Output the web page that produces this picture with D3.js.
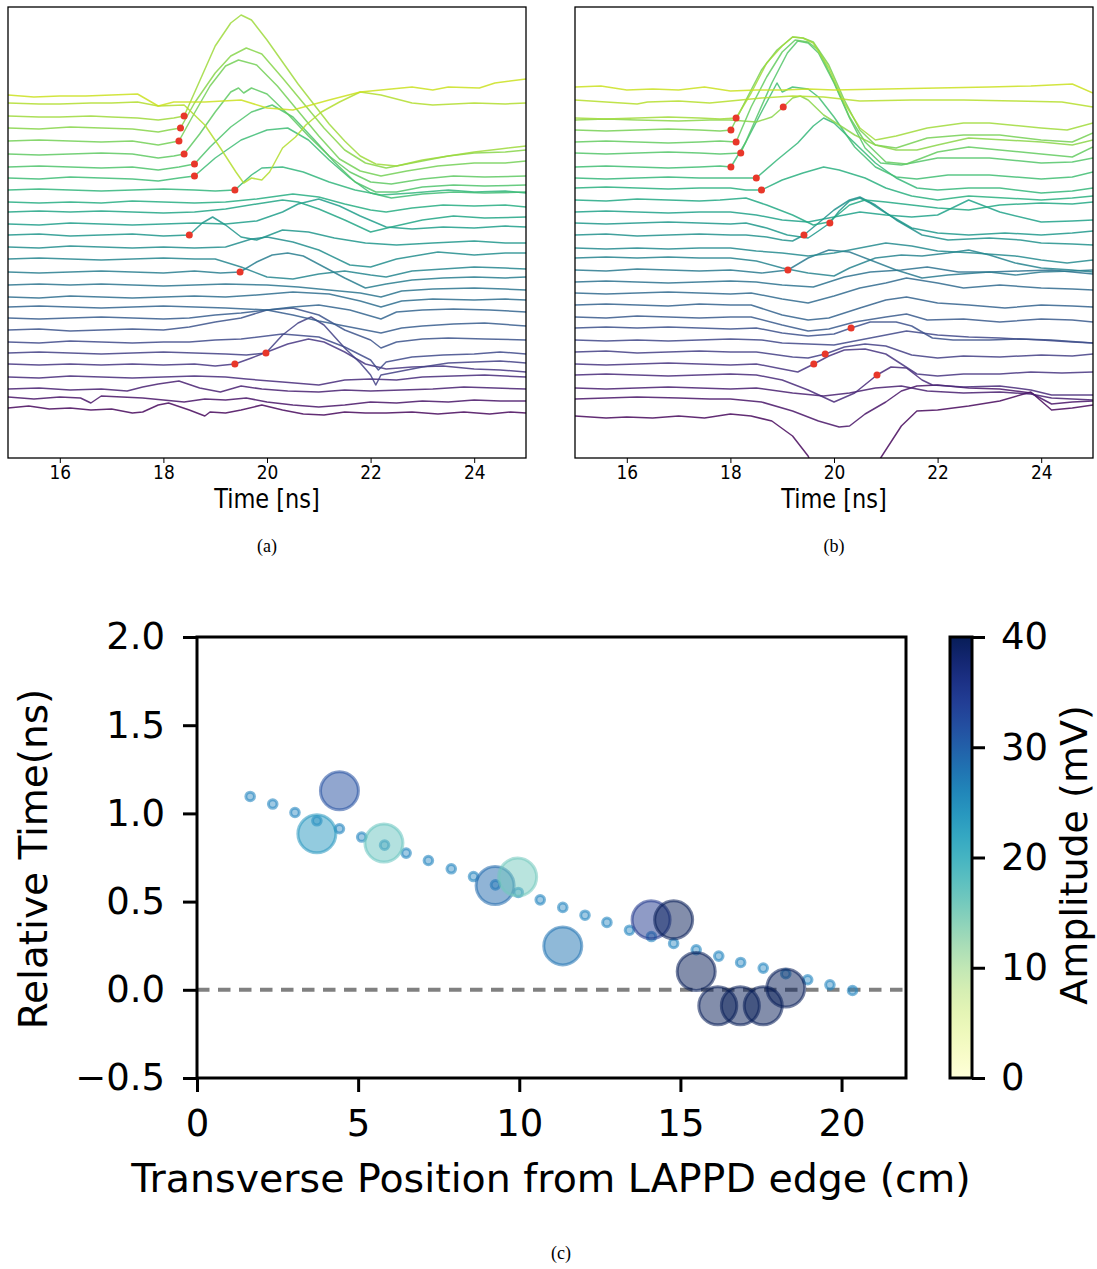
<!DOCTYPE html>
<html>
<head>
<meta charset="utf-8">
<script src="https://cdn.jsdelivr.net/npm/d3@7"></script>
<style>
  body { margin: 0; background: #fff; }
  text { font-family: "DejaVu Sans", sans-serif; fill: #000; }
  .cap { font-family: "Liberation Serif", "DejaVu Serif", serif; }
</style>
</head>
<body>
<svg id="fig" width="1097" height="1269"></svg>
<script>
// ---- panels (a) and (b): stacked strip waveforms ----
var timeTicks = [16, 18, 20, 22, 24];

// baseline offset of each strip (a.u.), bottom strip first
var offsetsA = [52, 63, 71, 83, 96, 107, 118, 130, 142, 153, 163, 175, 188, 201, 213, 225, 236, 248, 258, 270, 282, 293, 306, 319, 332, 344, 357, 365];
// waveform knots [time ns, amplitude relative to baseline]
var wavesA = [
  [[15,0],[15.4,2],[15.8,-1],[16.2,0],[16.6,-2],[17,-1],[17.4,-5],[17.6,-4],[17.9,3],[18.1,5],[18.5,-2],[18.8,-8],[18.9,-4],[19.2,-5],[19.5,-2],[19.9,3],[20.3,-2],[20.7,-6],[21.1,-7],[21.5,-4],[21.9,-5],[22.3,-5],[22.8,-4],[23.3,-6],[23.8,-4],[24.3,-6],[24.7,-4],[25,-5]],
  [[15,0],[15.5,-2],[16,0],[16.4,-1],[16.6,-6],[16.8,1],[17.2,0],[17.6,-1],[18,-3],[18.4,-5],[18.8,-2],[19.2,-3],[19.6,-1],[20,-5],[20.5,-8],[21,-10],[21.5,-8],[22,-5],[22.5,-6],[23,-4],[23.5,-5],[24,-3],[24.5,-4],[25,-4]],
  [[15,0],[15.6,1],[16.2,-1],[16.8,0],[17.3,-2],[17.6,2],[17.9,5],[18.3,8],[18.7,1],[19.1,-3],[19.5,3],[19.9,0],[20.4,-2],[21,-3],[21.5,-1],[22,-2],[22.6,-1],[23.2,0],[23.8,2],[24.4,1],[25,0]],
  [[15,0],[15.6,-1],[16.2,1],[16.8,0],[17.4,-1],[18,0],[18.6,1],[19.2,0],[19.6,-2],[20.3,-5],[21,-8],[21.5,-3],[22,-2],[22.5,-3],[23,0],[23.6,1],[24.2,2],[25,0]],
  [[15,0],[15.6,-1],[16.2,0],[16.8,-1],[17.4,0],[18,-1],[18.6,0],[19,-2],[19.38,0],[19.7,6],[20,12],[20.4,20],[20.8,25],[21.1,22],[21.5,12],[21.9,0],[22.3,-5],[22.8,-3],[23.4,-2],[24,-5],[24.5,-6],[25,-8]],
  [[15,0],[15.6,1],[16.2,0],[16.8,-1],[17.4,0],[18,1],[18.6,0],[19.2,-1],[19.6,-2],[19.98,0],[20.3,18],[20.6,30],[20.85,36],[21.1,28],[21.5,5],[21.8,-10],[22,-22],[22.1,-32],[22.2,-22],[22.6,-18],[23,-14],[23.5,-10],[24,-9],[24.5,-8],[25,-10]],
  [[15,0],[15.6,-1],[16.2,1],[16.8,0],[17.4,-1],[18,0],[18.5,0],[19,2],[19.5,3],[20.3,8],[21,5],[21.5,-5],[22,-18],[22.15,-28],[22.3,-20],[22.8,-15],[23.4,-13],[24,-12],[24.5,-10],[25,-12]],
  [[15,0],[15.6,1],[16.2,-1],[16.8,0],[17.4,1],[18,0],[18.5,3],[19,8],[19.5,12],[20,20],[20.5,22],[21,15],[21.5,0],[22,-10],[22.2,-18],[22.5,-12],[23,-9],[23.5,-8],[24.2,-9],[25,-10]],
  [[15,0],[15.6,-1],[16.2,0],[16.8,1],[17.4,0],[18,-1],[18.5,0],[19,3],[19.5,5],[20,8],[20.5,3],[21,-3],[21.5,-8],[22.2,-15],[22.6,-10],[23,-8],[23.6,-6],[24.2,-5],[25,-8]],
  [[15,0],[15.6,1],[16.2,0],[16.8,-1],[17.4,0],[18,1],[18.6,0],[19.2,-1],[20,-3],[20.5,0],[21,2],[21.6,-3],[22.2,-12],[22.5,-5],[23,-3],[23.6,-2],[24.3,-3],[25,-5]],
  [[15,0],[15.6,-1],[16.2,1],[16.8,0],[17.4,-1],[18,0],[18.6,1],[19.2,0],[19.8,2],[20.5,5],[21.2,3],[21.8,-4],[22.2,-10],[22.6,-4],[23.2,-2],[24,-3],[24.6,-2],[25,-3]],
  [[15,0],[15.6,1],[16.2,0],[16.8,1],[17.4,0],[18,-1],[18.6,0],[19.2,1],[20,0],[20.6,-2],[21.2,-5],[21.8,-8],[22.2,-12],[22.6,-6],[23.2,-4],[24,-3],[24.6,-4],[25,-5]],
  [[15,0],[15.6,-1],[16.2,0],[16.8,1],[17.4,0],[18,-1],[18.6,1],[19.1,-1],[19.48,0],[19.8,10],[20.1,17],[20.4,19],[20.7,16],[21.1,5],[21.5,-6],[21.9,-16],[22.3,-12],[22.8,-8],[23.4,-6],[24,-5],[24.6,-6],[25,-5]],
  [[15,0],[15.6,1],[16.2,0],[16.8,-1],[17.4,0],[18,1],[18.6,0],[19,0],[19.5,-8],[20,-18],[20.5,-20],[21,-15],[21.5,-12],[22,-16],[22.3,-18],[22.8,-12],[23.4,-10],[24,-8],[24.6,-9],[25,-10]],
  [[15,0],[15.6,-1],[16.2,1],[16.8,0],[17.4,-1],[18,0],[18.6,-1],[19.2,0],[19.7,8],[20,10],[20.5,5],[21,-3],[21.6,-18],[22,-20],[22.5,-12],[23.3,-5],[24,-8],[24.6,-6],[25,-6]],
  [[15,0],[15.6,1],[16.2,-1],[16.8,0],[17.4,1],[18,-1],[18.5,0],[18.75,12],[18.95,18],[19.2,10],[19.5,-2],[19.8,-5],[20.3,5],[20.8,3],[21.3,-3],[21.9,-8],[22.5,-10],[23.2,-8],[24,-6],[24.6,-8],[25,-8]],
  [[15,0],[15.6,-1],[16.2,1],[16.8,0],[17.4,-1],[18,0],[18.6,1],[19.2,0],[19.8,3],[20.3,12],[20.6,20],[21,25],[21.4,18],[21.8,8],[22.3,-3],[22.8,-5],[23.4,-3],[24,-4],[24.6,-2],[25,-3]],
  [[15,0],[15.6,1],[16.2,0],[16.8,1],[17.4,0],[18,-1],[18.6,0],[19.2,3],[19.8,8],[20.3,12],[20.6,10],[21,3],[21.5,-8],[22,-20],[22.4,-15],[23,-8],[23.6,-4],[24.2,-6],[25,-5]],
  [[15,0],[15.6,-1],[16.2,0],[16.8,-1],[17.4,1],[18,0],[18.6,-1],[19.2,0],[19.8,3],[20.5,8],[21,5],[21.5,-2],[22,-8],[22.3,-10],[22.8,-6],[23.4,-3],[24,-4],[24.6,-3],[25,-5]],
  [[15,0],[15.6,1],[16.2,0],[16.8,-1],[17.4,0],[18,1],[18.6,0],[19,-1],[19.38,0],[19.7,15],[19.9,22],[20.3,23],[20.7,18],[21.2,8],[21.7,0],[22.2,-5],[22.8,-3],[23.5,0],[24,-2],[24.6,-1],[25,-3]],
  [[15,0],[15.6,-1],[16.2,1],[16.8,0],[17.4,-1],[17.9,-3],[18.3,0],[18.6,2],[19,20],[19.5,38],[20,48],[20.4,50],[20.8,38],[21.2,18],[21.6,0],[22,-15],[22.4,-20],[23,-16],[23.6,-14],[24.2,-15],[25,-14]],
  [[15,0],[15.6,1],[16.2,0],[16.8,-1],[17.4,0],[17.9,-3],[18.3,0],[18.6,3],[18.9,20],[19.3,40],[19.7,55],[20.1,62],[20.5,50],[20.9,28],[21.3,5],[21.7,-15],[22.1,-25],[22.5,-25],[23,-20],[23.6,-18],[24.2,-19],[25,-18]],
  [[15,0],[15.6,-1],[16.2,0],[16.8,1],[17.4,0],[17.9,-4],[18.2,-2],[18.4,0],[18.7,20],[19,42],[19.3,62],[19.45,66],[19.55,61],[19.7,66],[20,60],[20.4,40],[20.8,18],[21.2,-2],[21.6,-18],[22,-28],[22.4,-30],[23,-25],[23.6,-22],[24.2,-23],[25,-22]],
  [[15,0],[15.6,1],[16.2,0],[16.8,-1],[17.4,0],[17.9,-4],[18.1,-2],[18.3,0],[18.6,28],[18.9,55],[19.2,75],[19.45,81],[19.8,76],[20.2,55],[20.6,30],[21,5],[21.4,-18],[21.8,-30],[22.2,-35],[22.7,-30],[23.3,-25],[24,-22],[24.6,-22],[25,-20]],
  [[15,0],[15.6,-1],[16.2,1],[16.8,0],[17.4,-1],[17.9,-4],[18.1,-2],[18.33,0],[18.6,25],[19,55],[19.3,72],[19.6,80],[19.9,74],[20.3,50],[20.7,25],[21.1,0],[21.5,-22],[21.9,-35],[22.3,-40],[22.8,-35],[23.5,-28],[24,-25],[24.6,-24],[25,-22]],
  [[15,0],[15.6,-1],[16,-1],[16.6,0],[17,-1],[17.5,-2],[17.9,-4],[18.2,-2],[18.4,0],[18.7,35],[19,70],[19.3,93],[19.5,101],[19.7,96],[20,76],[20.3,54],[20.6,32],[20.9,12],[21.2,-8],[21.5,-25],[21.8,-40],[22.1,-48],[22.5,-50],[23,-44],[23.5,-40],[24,-36],[24.5,-33],[25,-30]],
  [[15,0],[15.6,-1],[16,-1],[16.6,0],[17,0],[17.5,1],[17.9,-3],[18.4,-2],[18.8,-22],[19.1,-45],[19.4,-69],[19.55,-80],[19.7,-75],[19.9,-77],[20.05,-69],[20.3,-45],[20.55,-34],[20.75,-22],[21.05,-9],[21.4,1],[21.8,11],[22.2,8],[22.8,0],[23.2,-2],[24,0],[24.6,-1],[25,0]],
  [[15,0],[15.5,-2],[16,-1],[16.5,-1],[17,0],[17.5,1],[17.9,-11],[18.2,-7],[18.8,-7],[19.5,-5],[20,-13],[20.5,-15],[21.2,-5],[21.8,3],[22.2,5],[22.8,8],[23.2,5],[23.5,8],[24.1,7],[24.4,12],[25,16]]
];
// arrival markers [time ns, strip index]
var dotsA = [[18.4,25],[18.33,24],[18.3,23],[18.4,22],[18.6,21],[18.6,20],[19.38,19],[18.5,15],[19.48,12],[19.98,5],[19.38,4]];

var offsetsB = [44, 61, 72, 85, 96, 108, 120, 132, 143, 155, 167, 178, 190, 202, 212, 225, 237, 248, 260, 272, 282, 293, 307, 318, 330, 340, 342, 360, 373];
var wavesB = [
  [[15,0],[15.6,-2],[16,-1],[16.5,-2],[17,0],[17.5,-2],[18,2],[18.4,0],[18.8,-5],[19.2,-20],[19.5,-40],[19.8,-75],[20.2,-95],[20.6,-75],[20.9,-42],[21.3,-10],[21.6,5],[22,6],[22.6,10],[23.2,15],[23.8,24],[24.2,6],[24.6,8],[25,11]],
  [[15,0],[15.6,1],[16.2,2],[17,1],[17.6,0],[18,0],[18.6,-3],[19.2,-12],[19.7,-22],[20.1,-28],[20.3,-27],[20.6,-15],[21,-3],[21.3,8],[21.6,13],[22,14],[22.6,11],[23.2,10],[23.5,8],[23.8,6],[24.2,-5],[24.6,-3],[25,-2]],
  [[15,0],[15.6,-1],[16.2,0],[16.8,1],[17.4,0],[18,-1],[18.5,0],[19.2,-5],[19.8,-8],[20.3,-5],[20.8,0],[21.3,2],[21.8,-3],[22.5,-5],[23.2,-4],[23.8,-6],[24.2,-10],[25,-12]],
  [[15,0],[15.6,1],[16.2,0],[16.8,-1],[17.4,0],[18,1],[18.5,0],[19,-5],[19.5,-15],[20,-27],[20.4,-18],[20.83,0],[21.1,8],[21.4,7],[21.7,-5],[21.9,-10],[22.5,-12],[23.2,-11],[23.8,-15],[24.2,-20],[25,-20]],
  [[15,0],[15.6,-1],[16.2,0],[16.8,1],[17.4,0],[18,-1],[18.5,0],[19,-5],[19.3,-8],[19.61,0],[19.9,8],[20.2,14],[20.6,15],[21,10],[21.3,0],[21.6,-10],[22,-12],[22.5,-10],[23.2,-10],[23.8,-8],[24.4,-9],[25,-8]],
  [[15,0],[15.6,1],[16.2,-1],[16.8,0],[17.4,1],[18,0],[18.5,0],[19.2,-5],[19.5,-6],[19.83,-2],[20.2,5],[20.6,8],[21,6],[21.5,-3],[22,-6],[22.5,-4],[23.2,-5],[24,-3],[24.6,-4],[25,-2]],
  [[15,0],[15.6,-1],[16.2,0],[16.8,-1],[17.4,0],[18,1],[18.6,0],[19,-3],[20,-5],[20.5,0],[21,5],[21.4,9],[22,5],[22.6,3],[23.2,2],[24,0],[24.6,-2],[25,-3]],
  [[15,0],[15.6,1],[16.2,0],[16.8,1],[17.4,0],[18,-1],[18.5,0],[19,-5],[19.5,-8],[20,-6],[20.33,0],[20.7,6],[21.2,6],[21.5,2],[21.9,-10],[22.3,-12],[23,-12],[23.6,-11],[24.2,-12],[25,-15]],
  [[15,0],[15.6,-1],[16.2,1],[16.8,0],[17.4,-1],[18,0],[18.4,0],[19,-8],[19.5,-14],[19.9,-12],[20.4,-5],[21,0],[21.4,3],[21.8,-3],[22.5,-2],[23.2,-5],[24,-2],[24.6,-3],[25,-5]],
  [[15,0],[15.6,1],[16.2,0],[16.8,-1],[17.4,1],[18,0],[18.4,0],[19,-10],[19.5,-15],[19.9,-13],[20.5,-3],[21,5],[21.4,8],[22,2],[22.6,0],[23.3,-3],[24,0],[24.6,-1],[25,-2]],
  [[15,0],[15.6,-1],[16.2,0],[16.8,1],[17.4,0],[18,-1],[18.4,0],[19,-6],[19.5,-10],[20,-3],[20.5,5],[21,10],[21.4,15],[22,10],[22.5,5],[23.2,8],[24,5],[24.6,4],[25,3]],
  [[15,0],[15.6,1],[16.2,0],[16.8,-1],[17.4,0],[18,1],[18.5,0],[19,-3],[19.6,-5],[20.2,5],[20.7,10],[21.3,12],[21.8,15],[22.4,10],[23,10],[23.6,11],[24.2,12],[25,8]],
  [[15,0],[15.6,-1],[16.2,1],[16.8,0],[17.4,-1],[18,0],[18.6,-3],[19.11,0],[19.5,12],[19.9,20],[20.3,18],[20.7,10],[21.2,0],[21.7,-8],[22.2,-5],[23,-2],[23.5,-5],[24,-2],[24.6,-1],[25,0]],
  [[15,0],[15.6,1],[16.2,0],[16.8,1],[17.4,0],[18,0],[18.5,-3],[19,-10],[19.5,-15],[20,-18],[20.3,-10],[20.8,0],[21.3,3],[21.7,2],[22.2,5],[22.6,8],[23,3],[23.5,-5],[24,-10],[24.6,-12],[25,-14]],
  [[15,0],[15.6,-1],[16.2,0],[16.8,-1],[17.4,0],[18,0],[18.5,-3],[19,-5],[19.5,-8],[20,-5],[20.5,0],[21,5],[21.5,2],[22,-3],[22.7,-5],[23.5,-8],[24,-12],[24.5,-15],[25,-12]],
  [[15,0],[15.6,1],[16.2,-1],[16.8,0],[17.4,1],[18,0],[18.3,0],[18.7,-2],[19,-5],[19.2,-6],[19.42,0],[19.7,12],[20,25],[20.3,35],[20.5,38],[20.8,30],[21.2,15],[21.7,0],[22.2,-5],[23,-3],[23.6,-5],[24,-8],[24.6,-9],[25,-10]],
  [[15,0],[15.6,-1],[16.2,0],[16.8,1],[17.4,0],[18,-1],[18.3,0],[18.7,-5],[19.1,-12],[19.5,-15],[19.7,-8],[19.92,0],[20.1,12],[20.3,22],[20.5,25],[20.7,20],[21,10],[21.5,-5],[22,-10],[22.6,-12],[23.3,-10],[24,-12],[24.6,-10],[25,-8]],
  [[15,0],[15.6,1],[16.2,0],[16.8,-1],[17.4,0],[18,0],[18.5,-3],[19,-8],[19.5,-10],[20,-5],[20.5,0],[21,-3],[21.5,-5],[22,-3],[22.6,12],[23.2,0],[24,-10],[24.6,-9],[25,-8]],
  [[15,0],[15.6,-1],[16.2,1],[16.8,0],[17.4,-1],[17.8,0],[18.3,2],[18.7,-5],[19.2,-15],[19.6,-25],[19.9,-22],[20.3,-5],[20.6,0],[21,-2],[21.5,-5],[22,-8],[22.6,-10],[23.2,-5],[24,-3],[24.6,-4],[25,-2]],
  [[15,0],[15.6,1],[16.2,0],[16.8,-1],[17.4,0],[18,0],[18.3,-2],[18.6,-2],[19,8],[19.4,15],[19.8,21],[20.1,18],[20.6,10],[21,0],[21.5,-8],[22,-12],[22.6,-8],[23.3,-10],[24,-12],[24.6,-10],[25,-8]],
  [[15,0],[15.6,-1],[16.2,0],[16.8,1],[17.4,0],[18,0],[18.5,0],[18.9,18],[19.3,35],[19.6,52],[19.8,60],[20,55],[20.4,35],[20.8,15],[21.2,0],[21.6,-10],[22,-12],[22.6,-10],[23.2,-10],[24,-15],[24.6,-13],[25,-10]],
  [[15,0],[15.6,1],[16.2,0],[16.8,-1],[17.4,0],[17.8,1],[18.01,0],[18.3,25],[18.6,55],[18.9,84],[19,75],[19.2,80],[19.5,78],[19.7,70],[20,50],[20.4,20],[20.8,0],[21.2,-10],[21.6,-12],[22.2,-8],[23,-8],[24,-12],[24.6,-10],[25,-5]],
  [[15,0],[15.6,-1],[16.2,0],[16.8,1],[17.4,0],[17.8,-1],[18.2,0],[18.5,35],[18.8,70],[19.1,100],[19.3,112],[19.5,110],[19.7,100],[20,70],[20.3,35],[20.6,5],[20.9,-10],[21.3,-12],[22,-5],[23,-5],[24,-10],[24.6,-9],[25,-5]],
  [[15,0],[15.6,1],[16.2,0],[16.8,-1],[17.4,0],[17.8,1],[18.11,0],[18.4,35],[18.7,65],[19,90],[19.25,102],[19.5,100],[19.7,92],[20,60],[20.3,25],[20.6,0],[21,-20],[21.4,-22],[22,-10],[22.6,-5],[23.2,-8],[24,-12],[24.6,-15],[25,-5]],
  [[15,0],[15.6,-1],[16.2,0],[16.8,1],[17.4,0],[17.8,-1],[18.01,0],[18.3,30],[18.6,60],[18.9,80],[19.2,93],[19.4,92],[19.6,88],[19.9,65],[20.2,30],[20.5,0],[20.8,-15],[21.2,-18],[21.8,-8],[22.5,-5],[23.2,-5],[24,-10],[24.6,-12],[25,-3]],
  [[15,0],[15.6,1],[16.2,0],[17,-1],[17.6,0],[18,0],[18.5,-2],[18.8,3],[19,12],[19.2,22],[19.35,24],[19.5,20],[19.8,5],[20.1,-5],[20.4,-15],[20.8,-25],[21.2,-30],[21.6,-30],[22,-25],[22.6,-18],[23.3,-20],[24,-22],[24.6,-25],[25,-20]],
  [[15,0],[15.6,-1],[16.2,0],[16.8,1],[17.4,0],[17.8,-1],[18.11,0],[18.4,25],[18.7,55],[19,72],[19.2,81],[19.4,80],[19.6,75],[19.9,50],[20.2,15],[20.5,-10],[20.8,-22],[21.2,-18],[21.8,-10],[22.5,-5],[23,-5],[24,-10],[24.5,-12],[25,-5]],
  [[15,0],[15.6,-2],[16.2,-4],[16.4,-2],[17,-1],[17.6,-3],[18,-1],[18.6,2],[19.2,4],[19.8,3],[20.5,-1],[21.5,0],[22.5,0],[23.5,-1],[24.4,-2],[25,-7]],
  [[15,0],[15.5,1],[16,-3],[16.5,-2],[17,-3],[17.5,0],[18,-4],[18.5,-3],[19,-3],[19.5,-2],[20,-3],[21,-2],[22,-1],[23,0],[23.8,1],[24.6,3],[25,-6]]
];
var dotsB = [[18.11,26],[18.01,24],[18.11,23],[18.2,22],[18.01,21],[18.5,20],[18.6,19],[19.02,25],[19.92,16],[19.42,15],[19.11,12],[20.33,7],[19.83,5],[19.61,4],[20.83,3]];

// ---- panel (c): relative arrival time vs transverse position ----
var stripX = [1.65,2.35,3.04,3.72,4.42,5.11,5.82,6.49,7.18,7.89,8.58,9.26,9.97,10.65,11.35,12.04,12.72,13.42,14.10,14.79,15.49,16.19,16.87,17.57,18.27,18.95,19.64,20.34];
var stripT = [1.096,1.053,1.005,0.958,0.913,0.866,0.820,0.775,0.733,0.686,0.642,0.595,0.552,0.510,0.467,0.423,0.382,0.338,0.302,0.263,0.227,0.191,0.155,0.123,0.091,0.057,0.028,-0.004];
var hitX = [4.42,3.72,5.80,9.25,9.95,11.35,14.09,14.79,15.49,16.16,16.86,17.57,18.27];
var hitT = [1.128,0.884,0.832,0.591,0.639,0.249,0.397,0.397,0.104,-0.091,-0.091,-0.091,0.010];
var hitAmp = [32,24,17,29,16,28,35,40,40,40,40,40,40];
var xTicksC = [0,5,10,15,20];
var yTicksC = [-0.5,0,0.5,1,1.5,2];
var cbTicks = [0,10,20,30,40];

var svg = d3.select("#fig");
var defs = svg.append("defs");

function valueAt(knots, t) {
  for (var i = 1; i < knots.length; i++) {
    if (t <= knots[i][0]) {
      var a = knots[i-1], b = knots[i];
      return a[1] + (b[1]-a[1]) * (t-a[0]) / (b[0]-a[0]);
    }
  }
  return knots[knots.length-1][1];
}

function drawWaves(left, right, offsets, waves, dots, id, caption) {
  var top = 7, bottom = 458;
  var x = d3.scaleLinear().domain([15,25]).range([left,right]);
  var y = d3.scaleLinear().domain([2,453]).range([bottom,top]);
  var n = offsets.length;

  defs.append("clipPath").attr("id", id).append("rect")
    .attr("x", left).attr("y", top).attr("width", right-left).attr("height", bottom-top);

  var g = svg.append("g").attr("clip-path", "url(#" + id + ")");
  var line = d3.line().x(d => x(d[0])).y(d => y(d[1]));

  waves.forEach(function(w, i) {
    var pts = w.map(k => [k[0], offsets[i] + k[1]]);
    g.append("path")
      .attr("d", line(pts))
      .attr("fill", "none")
      .attr("stroke", d3.interpolateViridis(0.02 + 0.9*i/(n-1)))
      .attr("stroke-opacity", 0.85)
      .attr("stroke-width", 1.5)
      .attr("stroke-linejoin", "round");
  });

  g.selectAll("circle.dot").data(dots).enter().append("circle")
    .attr("class", "dot")
    .attr("cx", d => x(d[0]))
    .attr("cy", d => y(offsets[d[1]] + valueAt(waves[d[1]], d[0])))
    .attr("r", 3.5)
    .attr("fill", "#e8372a");

  svg.append("rect").attr("x", left).attr("y", top)
    .attr("width", right-left).attr("height", bottom-top)
    .attr("fill", "none").attr("stroke", "#000").attr("stroke-width", 1.3);

  var ax = svg.append("g").attr("transform", "translate(0," + bottom + ")")
    .call(d3.axisBottom(x).tickValues(timeTicks).tickSize(5).tickPadding(4).tickSizeOuter(0));
  ax.select(".domain").remove();
  ax.selectAll("line").attr("stroke-width", 1);
  ax.selectAll("text")
    .attr("font-size", 17).attr("font-family", "DejaVu Sans")
    .attr("dy", null).attr("y", 0)
    .attr("transform", "translate(0,21) scale(1,1.18)");

  svg.append("text").attr("text-anchor", "middle")
    .attr("transform", "translate(" + x(20) + ",508) scale(1,1.15)")
    .attr("font-size", 22.5).text("Time [ns]");

  svg.append("text").attr("class", "cap").attr("text-anchor", "middle")
    .attr("x", x(20)).attr("y", 552).attr("font-size", 18).text(caption);
}

drawWaves(8, 526, offsetsA, wavesA, dotsA, "clipA", "(a)");
drawWaves(575, 1093, offsetsB, wavesB, dotsB, "clipB", "(b)");

// ---- panel (c) ----
var xC = d3.scaleLinear().domain([0,22]).range([197,906]);
var yC = d3.scaleLinear().domain([-0.5,2]).range([1078,637]);
var amp = d3.scaleSequential(d3.interpolateYlGnBu).domain([0,40]);

svg.append("line")
  .attr("x1", xC(0)).attr("x2", xC(22)).attr("y1", yC(0)).attr("y2", yC(0))
  .attr("stroke", "#808080").attr("stroke-width", 4).attr("stroke-dasharray", "12.5,8.5");

var stripColor = "#2a88c2";
svg.append("g").selectAll("circle").data(stripX).enter().append("circle")
  .attr("cx", (d,i) => xC(d)).attr("cy", (d,i) => yC(stripT[i])).attr("r", 4.3)
  .attr("fill", stripColor).attr("fill-opacity", 0.45)
  .attr("stroke", stripColor).attr("stroke-opacity", 0.6).attr("stroke-width", 3);

svg.append("g").selectAll("circle").data(hitX).enter().append("circle")
  .attr("cx", (d,i) => xC(d)).attr("cy", (d,i) => yC(hitT[i])).attr("r", 19)
  .attr("fill", (d,i) => amp(hitAmp[i])).attr("fill-opacity", 0.5)
  .attr("stroke", (d,i) => amp(hitAmp[i])).attr("stroke-opacity", 0.55).attr("stroke-width", 3);

svg.append("rect").attr("x", 197).attr("y", 637).attr("width", 906-197).attr("height", 1078-637)
  .attr("fill", "none").attr("stroke", "#000").attr("stroke-width", 3);

var axC = svg.append("g").attr("transform", "translate(0,1078)")
  .call(d3.axisBottom(xC).tickValues(xTicksC).tickFormat(d3.format("d")).tickSize(14).tickPadding(18).tickSizeOuter(0));
var ayC = svg.append("g").attr("transform", "translate(197,0)")
  .call(d3.axisLeft(yC).tickValues(yTicksC).tickFormat(d3.format(".1f")).tickSize(14).tickPadding(18).tickSizeOuter(0));
[axC, ayC].forEach(function(a) {
  a.select(".domain").remove();
  a.selectAll("line").attr("stroke-width", 3);
  a.selectAll("text").attr("font-size", 37).attr("font-family", "DejaVu Sans");
});

svg.append("text").attr("text-anchor", "middle")
  .attr("x", 551).attr("y", 1192).attr("font-size", 39.5)
  .text("Transverse Position from LAPPD edge (cm)");
svg.append("text").attr("text-anchor", "middle")
  .attr("transform", "translate(47,859) rotate(-90)").attr("font-size", 39)
  .text("Relative Time(ns)");
svg.append("text").attr("class", "cap").attr("text-anchor", "middle")
  .attr("x", 561).attr("y", 1259).attr("font-size", 18).text("(c)");

// colorbar
var grad = defs.append("linearGradient").attr("id", "cbGrad")
  .attr("x1", 0).attr("y1", 1).attr("x2", 0).attr("y2", 0);
d3.range(0, 1.0001, 0.05).forEach(function(s) {
  grad.append("stop").attr("offset", s).attr("stop-color", d3.interpolateYlGnBu(s));
});
var cbY = d3.scaleLinear().domain([0,40]).range([1078,637]);
svg.append("rect").attr("x", 950).attr("y", 637).attr("width", 22).attr("height", 1078-637)
  .attr("fill", "url(#cbGrad)").attr("stroke", "#000").attr("stroke-width", 3);
var cbAx = svg.append("g").attr("transform", "translate(972,0)")
  .call(d3.axisRight(cbY).tickValues(cbTicks).tickSize(13).tickPadding(16).tickSizeOuter(0));
cbAx.select(".domain").remove();
cbAx.selectAll("line").attr("stroke-width", 3);
cbAx.selectAll("text").attr("font-size", 37).attr("font-family", "DejaVu Sans");
svg.append("text").attr("text-anchor", "middle")
  .attr("transform", "translate(1087,855) rotate(-90)").attr("font-size", 38)
  .text("Amplitude (mV)");
</script>
</body>
</html>
